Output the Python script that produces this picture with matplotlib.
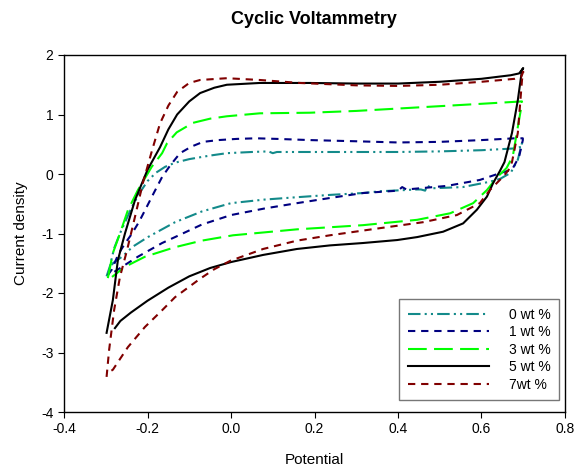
import matplotlib
matplotlib.use("Agg")
import matplotlib.pyplot as plt

plt.rcParams['font.family'] = ['Liberation Sans', 'DejaVu Sans']
plt.rcParams['axes.unicode_minus'] = False

# ---- data ----
labels = ["0 wt %", "1 wt %", "3 wt %", "5 wt %", "7wt %"]

x0 = [-0.298, -0.29, -0.28, -0.266, -0.25, -0.237, -0.22, -0.2, -0.18, -0.158, -0.134, -0.1, -0.05, -0.01, 0.05, 0.09, 0.1, 0.11, 0.15, 0.2, 0.3, 0.4, 0.5, 0.6, 0.68, 0.697,
      0.697, 0.687, 0.67, 0.645, 0.62, 0.555, 0.48, 0.47, 0.465, 0.455, 0.446, 0.357, 0.316, 0.24, 0.158, 0.08, 0.0, -0.07, -0.134, -0.199, -0.235, -0.261, -0.283, -0.29]
y0 = [-1.72, -1.55, -1.25, -1.0, -0.75, -0.55, -0.33, -0.12, 0.02, 0.12, 0.19, 0.25, 0.31, 0.35, 0.37, 0.38, 0.35, 0.37, 0.37, 0.37, 0.37, 0.37, 0.38, 0.40, 0.43, 0.46,
      0.52, 0.24, 0.02, -0.08, -0.13, -0.22, -0.24, -0.19, -0.28, -0.26, -0.26, -0.29, -0.32, -0.35, -0.39, -0.43, -0.49, -0.63, -0.81, -1.06, -1.22, -1.39, -1.50, -1.60]

x1 = [-0.295, -0.285, -0.27, -0.255, -0.237, -0.22, -0.206, -0.185, -0.165, -0.145, -0.122, -0.095, -0.067, -0.03, 0.014, 0.06, 0.110, 0.189, 0.3, 0.4, 0.5, 0.6, 0.68, 0.699,
      0.699, 0.690, 0.673, 0.651, 0.596, 0.517, 0.42, 0.41, 0.40, 0.316, 0.24, 0.158, 0.08, 0.0, -0.07, -0.134, -0.165, -0.223, -0.261, -0.285, -0.29]
y1 = [-1.70, -1.60, -1.35, -1.18, -1.0, -0.80, -0.61, -0.32, -0.05, 0.15, 0.35, 0.46, 0.54, 0.57, 0.59, 0.60, 0.59, 0.57, 0.55, 0.53, 0.54, 0.57, 0.60, 0.60,
      0.57, 0.29, 0.07, 0.03, -0.10, -0.20, -0.26, -0.22, -0.28, -0.32, -0.40, -0.49, -0.58, -0.69, -0.85, -1.06, -1.16, -1.39, -1.56, -1.67, -1.62]

x3 = [-0.295, -0.283, -0.266, -0.247, -0.223, -0.19, -0.165, -0.153, -0.13, -0.091, -0.05, -0.010, 0.069, 0.189, 0.3, 0.4, 0.5, 0.6, 0.697,
      0.697, 0.687, 0.675, 0.66, 0.638, 0.613, 0.580, 0.525, 0.446, 0.316, 0.158, 0.005, -0.07, -0.134, -0.206, -0.254, -0.285]
y3 = [-1.75, -1.33, -1.0, -0.61, -0.27, 0.12, 0.35, 0.52, 0.70, 0.86, 0.93, 0.97, 1.02, 1.03, 1.06, 1.10, 1.14, 1.18, 1.22,
      1.19, 0.79, 0.30, 0.10, -0.05, -0.27, -0.49, -0.66, -0.77, -0.86, -0.93, -1.03, -1.12, -1.23, -1.39, -1.56, -1.73]

x5 = [-0.298, -0.283, -0.271, -0.254, -0.23, -0.2, -0.17, -0.15, -0.129, -0.1, -0.074, -0.04, -0.010, 0.069, 0.189, 0.3, 0.4, 0.5, 0.6, 0.67, 0.69, 0.70,
      0.697, 0.687, 0.673, 0.655, 0.644, 0.628, 0.613, 0.589, 0.556, 0.508, 0.446, 0.398, 0.316, 0.237, 0.158, 0.077, 0.0, -0.05, -0.1, -0.15, -0.2, -0.24, -0.265, -0.278]
y5 = [-2.67, -2.12, -1.45, -1.0, -0.44, 0.07, 0.45, 0.75, 1.0, 1.22, 1.36, 1.45, 1.50, 1.53, 1.53, 1.52, 1.52, 1.55, 1.60, 1.66, 1.69, 1.78,
      1.75, 1.24, 0.69, 0.20, 0.05, -0.15, -0.38, -0.60, -0.83, -0.97, -1.06, -1.11, -1.16, -1.20, -1.26, -1.36, -1.48, -1.58, -1.72, -1.91, -2.13, -2.33, -2.47, -2.59]

x7 = [-0.298, -0.292, -0.28, -0.266, -0.249, -0.23, -0.211, -0.189, -0.17, -0.15, -0.129, -0.1, -0.074, -0.010, 0.069, 0.165, 0.3, 0.4, 0.5, 0.6, 0.68, 0.695, 0.70,
      0.697, 0.687, 0.673, 0.665, 0.651, 0.62, 0.596, 0.541, 0.46, 0.357, 0.237, 0.158, 0.077, -0.002, -0.04, -0.074, -0.134, -0.165, -0.206, -0.247, -0.283, -0.29]
y7 = [-3.41, -2.96, -2.29, -1.73, -1.28, -0.72, -0.15, 0.40, 0.85, 1.15, 1.38, 1.53, 1.58, 1.61, 1.58, 1.53, 1.49, 1.48, 1.50, 1.55, 1.60, 1.63, 1.72,
      1.58, 0.69, 0.20, 0.07, -0.05, -0.27, -0.49, -0.69, -0.81, -0.91, -1.03, -1.12, -1.26, -1.46, -1.60, -1.76, -2.07, -2.29, -2.57, -2.91, -3.29, -3.32]

xs = [x0, x1, x3, x5, x7]
ys = [y0, y1, y3, y5, y7]

colors = ["#138A8A", "#000080", "#00FF00", "#000000", "#800000"]
dashes = [(6, 2, 1, 2, 1, 2), (3.5, 2.8), (9, 3.5), None, (3.5, 2.8)]

fig = plt.figure(figsize=(5.74, 4.68), dpi=100)
ax = fig.add_axes([64/574, (468-412)/468, (565-64)/574, (412-55)/468])

for x, y, c, d, lab in zip(xs, ys, colors, dashes, labels):
    if d is None:
        ax.plot(x, y, color=c, lw=1.5, label=lab)
    else:
        ax.plot(x, y, color=c, lw=1.5, dashes=d, label=lab)

ax.set_xlim(-0.4, 0.8)
ax.set_ylim(-4, 2)
ax.set_xticks([-0.4, -0.2, 0.0, 0.2, 0.4, 0.6, 0.8])
ax.set_xticklabels(["-0.4", "-0.2", "0.0", "0.2", "0.4", "0.6", "0.8"])
ax.set_yticks([-4, -3, -2, -1, 0, 1, 2])
ax.tick_params(direction='out', length=4, width=0.8, labelsize=10, colors='black')
for s in ax.spines.values():
    s.set_linewidth(1.0)
    s.set_color('black')

ax.set_xlabel("Potential", fontsize=11)
ax.xaxis.set_label_coords(0.5, -0.115)
ax.set_ylabel("Current density", fontsize=11)
ax.yaxis.set_label_coords(-0.072, 0.5)

fig.text(314/574, 1 - 20/468, "Cyclic Voltammetry", ha='center', va='center',
         fontsize=13, fontweight='bold')

leg = ax.legend(loc='lower right', bbox_to_anchor=((559-64)/501, (412-400)/357),
                fontsize=10, handlelength=5.9, handletextpad=1.4, labelspacing=0.25,
                frameon=True, fancybox=False, borderpad=0.6, borderaxespad=0)
leg.get_frame().set_edgecolor('#555555')
leg.get_frame().set_linewidth(1.0)

fig.savefig("out.png", dpi=100)
